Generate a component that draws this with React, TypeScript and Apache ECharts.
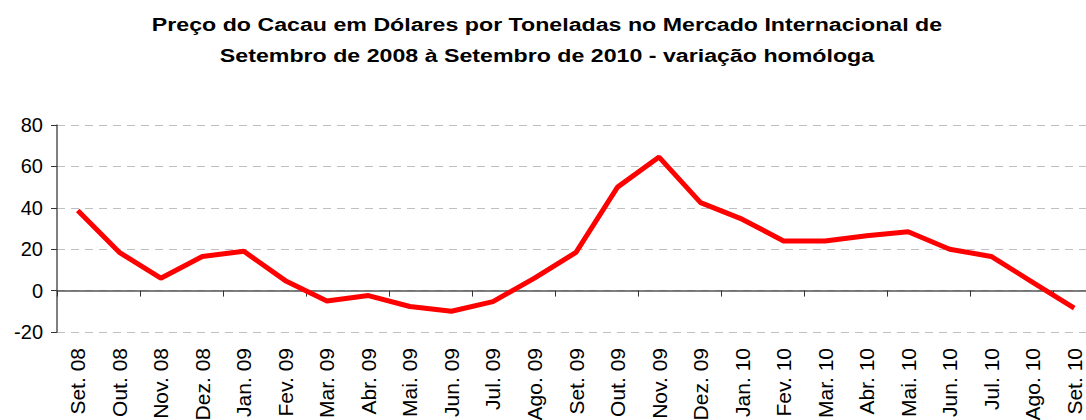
import React, { useEffect, useRef } from "react";
import * as echarts from "echarts";

const categories = [
  "Set. 08", "Out. 08", "Nov. 08", "Dez. 08", "Jan. 09", "Fev. 09", "Mar. 09",
  "Abr. 09", "Mai. 09", "Jun. 09", "Jul. 09", "Ago. 09", "Set. 09", "Out. 09",
  "Nov. 09", "Dez. 09", "Jan. 10", "Fev. 10", "Mar. 10", "Abr. 10", "Mai. 10",
  "Jun. 10", "Jul. 10", "Ago. 10", "Set. 10",
];

const variacao = [
  38.7, 18.5, 6, 16.5, 19, 4.8, -5, -2.4, -7.7, -10, -5.3, 6, 18.5, 50,
  64.5, 42.5, 34.5, 24, 24, 26.5, 28.4, 20, 16.5, 4, -8.5,
];

const titleLines = [
  "Preço do Cacau em Dólares por Toneladas no Mercado Internacional de",
  "Setembro de 2008 à Setembro de 2010 - variação homóloga",
];

export default function App() {
  const ref = useRef<HTMLDivElement>(null);
  useEffect(() => {
    if (!ref.current) return;
    const chart = echarts.init(ref.current, null, { renderer: "svg" });
    const font = "Arial, 'Liberation Sans', sans-serif";
    const titleY = [24, 55];
    chart.setOption({
      animation: false,
      backgroundColor: "#ffffff",
      graphic: titleLines.map((t, i) => ({
        type: "text",
        x: 547,
        y: titleY[i],
        scaleX: 1.22,
        silent: true,
        style: {
          text: t,
          textAlign: "center",
          textVerticalAlign: "middle",
          fontFamily: font,
          fontSize: 19,
          fontWeight: "bold",
          fill: "#000",
        },
      })),
      grid: { left: 57, top: 125, bottom: 88, right: -9, containLabel: false, outerBoundsMode: "none" },
      xAxis: [
        {
          type: "category",
          data: categories,
          boundaryGap: true,
          axisLine: { onZero: true, lineStyle: { color: "#555", width: 1.5 } },
          axisTick: { show: true, inside: false, length: 6, lineStyle: { color: "#333" } },
          axisLabel: { show: false },
          splitLine: { show: false },
        },
        {
          type: "category",
          data: categories,
          position: "bottom",
          boundaryGap: true,
          axisLine: { show: false, onZero: false },
          axisTick: { show: false },
          axisLabel: {
            show: true,
            rotate: 90,
            interval: 0,
            margin: 16,
            fontFamily: font,
            fontSize: 21,
            color: "#000",
          },
          splitLine: { show: false },
        },
      ],
      yAxis: {
        type: "value",
        min: -20,
        max: 80,
        interval: 20,
        axisLine: { show: true, lineStyle: { color: "#555", width: 1.5 } },
        axisTick: { show: true, length: 6, lineStyle: { color: "#333" } },
        axisLabel: { margin: 14, fontFamily: font, fontSize: 20, color: "#000" },
        splitLine: { show: true, lineStyle: { type: [8, 6], color: "#c0c0c0", width: 1 } },
      },
      series: [
        {
          type: "line",
          data: variacao,
          xAxisIndex: 0,
          symbol: "none",
          lineStyle: { color: "#ff0000", width: 5 },
          itemStyle: { color: "#ff0000" },
        },
      ],
    });
    return () => chart.dispose();
  }, []);
  return (
    <div style={{ position: "fixed", left: 0, top: 0, width: 1086, height: 420, overflow: "hidden" }}>
      <div ref={ref} style={{ width: 1086, height: 420 }} />
    </div>
  );
}
